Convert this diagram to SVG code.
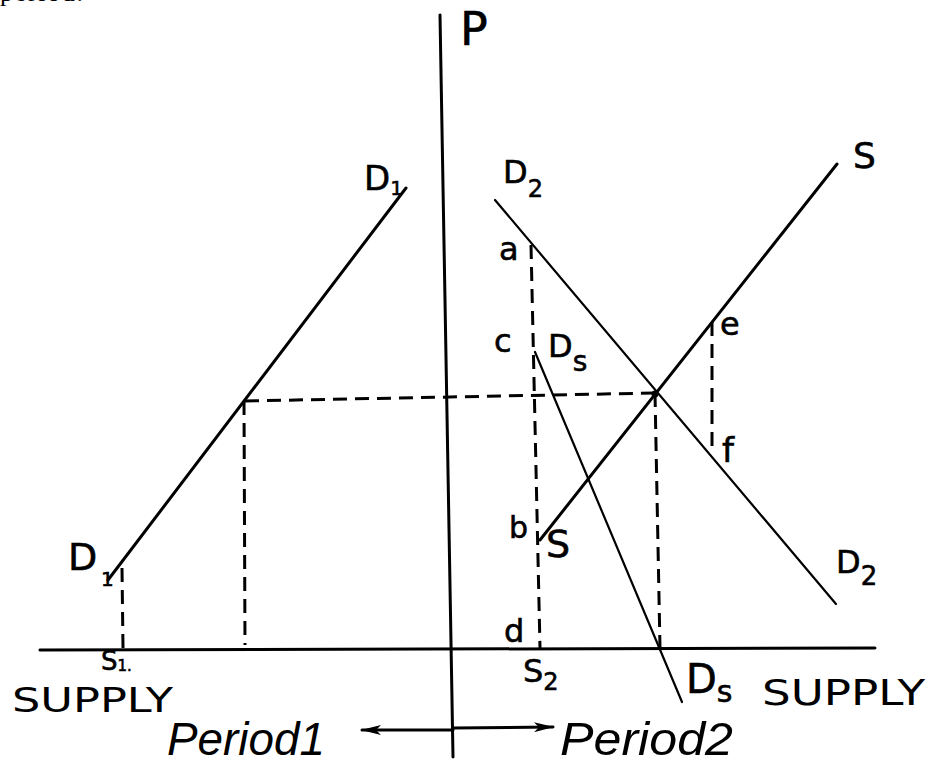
<svg xmlns="http://www.w3.org/2000/svg" width="930" height="766" viewBox="0 0 930 766">
<defs>
<style>
.ax{stroke:#000;stroke-width:3;fill:none;stroke-linecap:round}
.ln{stroke:#000;stroke-width:2.2;fill:none;stroke-linecap:round}
.lnb{stroke:#000;stroke-width:3;fill:none;stroke-linecap:round}
.dash{stroke:#000;stroke-width:3;fill:none;stroke-dasharray:14 8}
.lb{font-family:"DejaVu Sans","Liberation Sans",sans-serif;fill:#000;stroke:#000;stroke-width:0.6}
.sup{font-family:"DejaVu Sans","Liberation Sans",sans-serif;fill:#000}
.per{font-family:"Liberation Sans",sans-serif;font-style:italic;fill:#000}
</style>
<marker id="ah" viewBox="0 0 20 10" refX="19" refY="5" markerWidth="20" markerHeight="10" markerUnits="userSpaceOnUse" orient="auto">
<path d="M0,0 L20,5 L0,10 L5,5 Z" fill="#000"/>
</marker>
</defs>
<rect width="930" height="766" fill="#fff"/>
<text x="0" y="1" style="font-family:'Liberation Serif',serif;font-size:26px" textLength="83">period.</text>
<g id="axes">
<line class="ax" x1="440" y1="15" x2="453" y2="757"/>
<line class="ax" x1="40" y1="650" x2="875" y2="648"/>
</g>
<g id="connectors">
<line class="lnb" x1="406" y1="188" x2="108" y2="580"/>
<line class="ln" x1="495" y1="200" x2="836" y2="604"/>
<line class="lnb" x1="837" y1="164" x2="540" y2="540"/>
<line class="ln" x1="535" y1="352" x2="682" y2="702"/>
<line class="dash" x1="122" y1="568" x2="123" y2="648"/>
<line class="dash" x1="244" y1="401" x2="245" y2="645"/>
<line class="dash" x1="245" y1="401" x2="655" y2="393"/>
<line class="dash" x1="531" y1="245" x2="540" y2="648"/>
<line class="dash" x1="655" y1="393" x2="660" y2="648"/>
<line class="dash" x1="712" y1="322" x2="712" y2="453"/>
<circle cx="655" cy="394" r="3.5" fill="#000"/>
<line class="ax" x1="453" y1="730" x2="362" y2="730" marker-end="url(#ah)"/>
<line class="ax" x1="453" y1="728" x2="553" y2="727" marker-end="url(#ah)"/>
</g>
<g id="label-P"><text class="lb" x="460" y="45" font-size="46">P</text></g>
<g id="label-D1-top"><text class="lb" x="364" y="190" font-size="34">D<tspan font-size="20" dy="5">1</tspan></text></g>
<g id="label-D1-bottom"><text class="lb" x="68" y="570" font-size="38">D</text><text class="lb" x="101" y="586" font-size="20">1</text></g>
<g id="label-D2-top"><text class="lb" x="503" y="183" font-size="32">D<tspan font-size="24" dy="14">2</tspan></text></g>
<g id="label-S-top"><text class="lb" x="853" y="168" font-size="36">S</text></g>
<g id="label-a"><text class="lb" x="499" y="260" font-size="32">a</text></g>
<g id="label-c"><text class="lb" x="494" y="352" font-size="32">c</text></g>
<g id="label-Ds-top"><text class="lb" x="548" y="357" font-size="32">D<tspan font-size="28" dy="14">s</tspan></text></g>
<g id="label-e"><text class="lb" x="720" y="335" font-size="32">e</text></g>
<g id="label-f"><text class="lb" x="722" y="462" font-size="34">f</text></g>
<g id="label-b"><text class="lb" x="509" y="538" font-size="30">b</text></g>
<g id="label-S-bottom"><text class="lb" x="546" y="557" font-size="38">S</text></g>
<g id="label-d"><text class="lb" x="504" y="642" font-size="32">d</text></g>
<g id="label-S2"><text class="lb" x="523" y="682" font-size="32">S<tspan font-size="24" dy="8">2</tspan></text></g>
<g id="label-Ds-bottom"><text class="lb" x="686" y="693" font-size="40">D<tspan font-size="30" dy="9">s</tspan></text></g>
<g id="label-D2-right"><text class="lb" x="836" y="573" font-size="32">D<tspan font-size="26" dy="12">2</tspan></text></g>
<g id="label-S1"><text class="lb" x="101" y="670" font-size="26">S<tspan font-size="15" dy="1">1.</tspan></text></g>
<g id="label-supply-left"><text class="sup" x="12" y="712" font-size="34" textLength="161" lengthAdjust="spacingAndGlyphs">SUPPLY</text></g>
<g id="label-supply-right"><text class="sup" x="762" y="705" font-size="35" textLength="163" lengthAdjust="spacingAndGlyphs">SUPPLY</text></g>
<g id="label-period1"><text class="per" x="167" y="755" font-size="46" textLength="158" lengthAdjust="spacingAndGlyphs">Period1</text></g>
<g id="label-period2"><text class="per" x="560" y="755" font-size="46" textLength="173" lengthAdjust="spacingAndGlyphs">Period2</text></g>
</svg>
